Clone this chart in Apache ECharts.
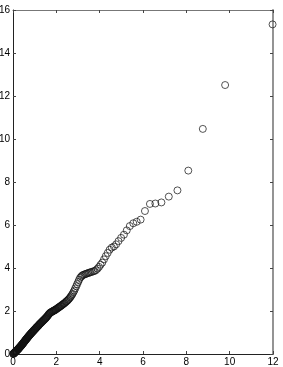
<!DOCTYPE html>
<html>
<head>
<meta charset="utf-8">
<script src="https://cdn.jsdelivr.net/npm/echarts@6/dist/echarts.min.js"></script>
<style>
html,body{margin:0;padding:0;background:#fff;}
#chart{width:283px;height:367px;}
</style>
</head>
<body>
<div id="chart"></div>
<script>
var xTicks = [0, 2, 4, 6, 8, 10, 12];
var yTicks = [0, 2, 4, 6, 8, 10, 12, 14, 16];

var xQuantiles = [
0.01,0.02,0.03,0.04,0.05,0.06,0.07,0.08,0.09,0.10,
0.11,0.12,0.13,0.14,0.15,0.16,0.17,0.18,0.19,0.21,
0.22,0.23,0.24,0.25,0.26,0.27,0.28,0.29,0.31,0.32,
0.33,0.34,0.35,0.37,0.38,0.39,0.40,0.41,0.43,0.44,
0.45,0.47,0.48,0.49,0.50,0.52,0.53,0.54,0.56,0.57,
0.58,0.60,0.61,0.62,0.64,0.65,0.66,0.68,0.69,0.71,
0.72,0.73,0.75,0.76,0.78,0.79,0.81,0.82,0.84,0.85,
0.87,0.88,0.90,0.92,0.93,0.95,0.96,0.98,1.00,1.01,
1.03,1.05,1.06,1.08,1.10,1.11,1.13,1.15,1.17,1.19,
1.20,1.22,1.24,1.26,1.28,1.30,1.32,1.34,1.36,1.38,
1.40,1.42,1.44,1.46,1.48,1.50,1.52,1.54,1.56,1.59,
1.61,1.63,1.65,1.68,1.70,1.72,1.75,1.77,1.80,1.82,
1.85,1.87,1.90,1.92,1.95,1.97,2.00,2.03,2.06,2.09,
2.11,2.14,2.17,2.20,2.23,2.26,2.29,2.33,2.36,2.39,
2.43,2.46,2.49,2.53,2.56,2.60,2.64,2.67,2.71,2.75,
2.79,2.83,2.87,2.92,2.96,3.01,3.05,3.10,3.15,3.19,
3.24,3.30,3.35,3.40,3.46,3.51,3.57,3.63,3.70,3.76,
3.83,3.90,3.97,4.04,4.12,4.20,4.28,4.37,4.46,4.56,
4.66,4.76,4.87,4.99,5.12,5.25,5.39,5.55,5.71,5.89,
6.09,6.32,6.57,6.85,7.19,7.59,8.09,8.76,9.79,11.98
];

var ySample = [
0.00,0.01,0.02,0.03,0.04,0.05,0.06,0.07,0.08,0.09,
0.10,0.11,0.12,0.13,0.14,0.15,0.16,0.17,0.18,0.20,
0.21,0.22,0.23,0.24,0.25,0.27,0.28,0.29,0.31,0.32,
0.33,0.35,0.36,0.38,0.39,0.41,0.42,0.43,0.45,0.47,
0.48,0.50,0.52,0.53,0.55,0.57,0.58,0.60,0.62,0.64,
0.65,0.67,0.69,0.70,0.72,0.74,0.75,0.77,0.79,0.81,
0.82,0.84,0.86,0.87,0.89,0.91,0.93,0.94,0.96,0.98,
1.00,1.01,1.03,1.05,1.07,1.08,1.10,1.12,1.14,1.15,
1.17,1.19,1.21,1.23,1.25,1.26,1.28,1.30,1.32,1.34,
1.36,1.38,1.40,1.42,1.44,1.46,1.48,1.50,1.52,1.54,
1.56,1.58,1.60,1.62,1.64,1.66,1.68,1.71,1.73,1.76,
1.79,1.82,1.85,1.88,1.90,1.92,1.94,1.95,1.97,1.98,
2.00,2.01,2.02,2.04,2.05,2.07,2.09,2.11,2.13,2.15,
2.17,2.19,2.21,2.23,2.25,2.28,2.30,2.33,2.35,2.38,
2.41,2.44,2.47,2.50,2.54,2.58,2.63,2.68,2.74,2.80,
2.88,2.95,3.05,3.15,3.25,3.35,3.45,3.55,3.60,3.65,
3.68,3.70,3.72,3.74,3.76,3.78,3.80,3.82,3.84,3.86,
3.90,3.97,4.05,4.15,4.25,4.40,4.55,4.70,4.85,4.95,
5.00,5.10,5.25,5.40,5.55,5.75,5.95,6.08,6.15,6.25,
6.65,6.98,7.00,7.05,7.32,7.61,8.53,10.47,12.51,15.33
];

var points = xQuantiles.map(function (x, i) { return [x, ySample[i]]; });

var chart = echarts.init(document.getElementById('chart'), null, {renderer: 'canvas'});
var font = '"Liberation Sans", Arial, Helvetica, sans-serif';
var lblColor = '#000';

function axisCommon(ticks, showLabel, lineColor, lineWidth) {
  return {
    min: ticks[0],
    max: ticks[ticks.length - 1],
    interval: ticks[1] - ticks[0],
    axisLine: {show: true, onZero: false, lineStyle: {color: lineColor, width: lineWidth}},
    axisTick: {show: true, inside: true, length: 3, lineStyle: {color: '#444', width: 1}},
    axisLabel: {show: showLabel, color: lblColor, fontSize: 10, fontFamily: font, margin: 3},
    splitLine: {show: false}
  };
}

var xBottom = Object.assign({type: 'value', position: 'bottom'}, axisCommon(xTicks, true, '#222', 1));
var xTop = Object.assign({type: 'value', position: 'top'}, axisCommon(xTicks, false, '#777', 1.2));
var yLeft = Object.assign({type: 'value', position: 'left'}, axisCommon(yTicks, true, '#222', 1));
var yRight = Object.assign({type: 'value', position: 'right'}, axisCommon(yTicks, false, '#888', 1.8));

chart.setOption({
  animation: false,
  backgroundColor: '#fff',
  grid: {left: 13, right: 10, top: 10, bottom: 13, containLabel: false, outerBoundsMode: 'none'},
  xAxis: [xBottom, xTop],
  yAxis: [yLeft, yRight],
  series: [{
    type: 'scatter',
    xAxisIndex: 0,
    yAxisIndex: 0,
    data: points,
    symbol: 'circle',
    symbolSize: 7,
    itemStyle: {color: 'rgba(0,0,0,0)', borderColor: '#111', borderWidth: 0.9}
  }]
});
</script>
</body>
</html>
